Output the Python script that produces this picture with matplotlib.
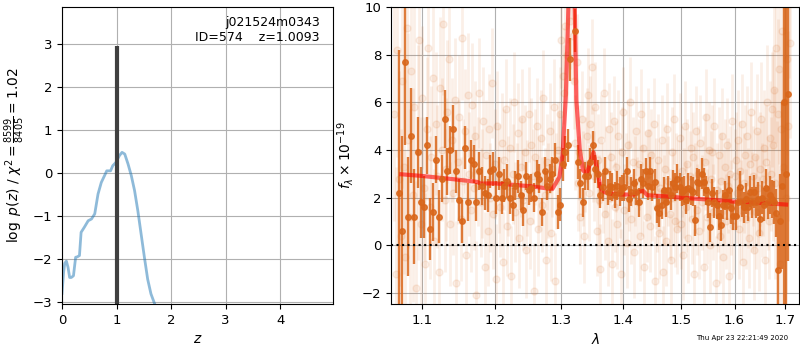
import numpy as np
import matplotlib
matplotlib.use('Agg')
import matplotlib.pyplot as plt
from matplotlib.ticker import NullLocator

# ---- left panel: redshift probability ----
z_grid = [0.0, 0.03, 0.05, 0.08, 0.11, 0.14, 0.17, 0.21, 0.25, 0.28, 0.32, 0.35,
          0.41, 0.48, 0.54, 0.60, 0.66, 0.72, 0.78, 0.82, 0.89, 0.93, 0.99, 1.05,
          1.10, 1.15, 1.21, 1.27, 1.33, 1.39, 1.45, 1.51, 1.57, 1.63, 1.70]
log_pz = [-2.8, -2.3, -2.1, -2.05, -2.19, -2.43, -2.43, -2.39, -1.96, -1.95, -1.92, -1.38,
          -1.26, -1.11, -1.07, -0.95, -0.49, -0.22, -0.06, 0.05, 0.05, 0.17, 0.25, 0.40,
          0.48, 0.44, 0.21, -0.06, -0.41, -0.88, -1.42, -1.96, -2.47, -2.81, -3.05]
z_best = 1.0093
root = 'j021524m0343'
obj_id = 574

# ---- right panel: spectrum ----
# binned spectrum
wave_bin = np.linspace(1.070, 1.706, 160)
flux_bin = [2.2, 0.6, 7.7, 1.2, 4.6, 1.2, 3.9, 1.8, 1.6, 4.2, 0.7, 1.4, 3.6, 1.2, 2.8,
            5.3, 3.1, 4.0, 4.9, 3.1, 1.9, 1.0, 4.1, 1.8, 3.6, 3.4, 1.8, 3.1, 2.5, 2.2, 2.1, 3.1,
            3.2, 2.0, 3.0, 2.0, 2.5, 2.7, 2.0, 1.7, 2.5, 2.9, 2.1, 1.5, 2.9, 2.3, 2.4, 2.0,
            3.0, 2.8, 1.4, 3.1, 2.5, 2.8, 3.0, 3.6, 1.4,
            1.7, 3.4, 3.9, 4.2, 7.8, 11.0, 9.0, 3.5, 2.6, 1.8, 2.9, 2.9, 3.5, 4.2, 3.2, 3.0,
            2.1, 2.45, 3.1, 2.25, 2.5, 2.45, 2.1, 2.5, 2.25, 2.4, 2.45, 3.1, 1.95, 2.25, 2.6,
            2.25, 1.8, 2.8, 2.6, 3.1, 2.5, 3.1, 2.45, 2.65, 1.55, 1.35, 1.7, 2.3, 1.8, 2.3,
            2.1, 2.6, 2.45, 2.8, 2.45, 2.25,
            2.3, 1.9, 2.4, 2.3, 2.25, 1.05, 2.65, 2.6, 3.0, 2.65, 2.3, 1.8, 0.75, 2.2, 1.8,
            1.7, 1.25, 0.85, 1.7, 2.1, 1.7, 2.3, 1.55, 1.25, 1.25, 1.8, 2.45, 1.8, 1.6, 1.95,
            1.6, 2.25, 1.8, 2.25, 1.8, 1.95, 1.1,
            2.0, 1.7, 2.4, 1.8, 2.1, 1.95, 1.8, 1.35, -1.05, 1.0, 2.5, 6.0, 3.0, 6.35]
err_bin = [6.0, 4.0, 3.5, 2.5, 2.0, 2.0, 1.5, 1.5, 1.3, 1.2, 1.3, 1.2, 1.0, 1.1, 1.0,
           1.2, 1.0, 1.0, 1.0, 0.9, 0.9, 0.9, 0.9, 0.8, 0.8, 0.8, 0.8, 0.8, 0.8, 0.7, 0.7, 0.7,
           0.7, 0.7, 0.7, 0.7, 0.7, 0.7, 0.7, 0.7, 0.6, 0.7, 0.6, 0.7, 0.6, 0.6, 0.6, 0.6,
           0.6, 0.6, 0.6, 0.6, 0.6, 0.6, 0.7, 0.7, 0.7,
           0.7, 0.7, 0.7, 0.7, 0.9, 1.0, 0.9, 0.7, 0.6, 0.6, 0.6, 0.6, 0.6, 0.6, 0.6, 0.6,
           0.55, 0.6, 0.6, 0.55, 0.6, 0.6, 0.55, 0.6, 0.6, 0.55, 0.6, 0.6, 0.55, 0.6, 0.6,
           0.55, 0.6, 0.6, 0.6, 0.55, 0.6, 0.6, 0.6, 0.55, 0.6, 0.6, 0.6, 0.55, 0.6, 0.6,
           0.6, 0.55, 0.6, 0.6, 0.6, 0.6,
           0.6, 0.6, 0.65, 0.6, 0.6, 0.65, 0.6, 0.6, 0.65, 0.6, 0.6, 0.65, 0.6, 0.6, 0.65,
           0.6, 0.6, 0.65, 0.6, 0.6, 0.65, 0.6, 0.65, 0.6, 0.6, 0.65, 0.65, 0.6, 0.65, 0.65,
           0.6, 0.65, 0.65, 0.7, 0.65, 0.7, 0.7,
           0.7, 0.7, 0.8, 0.7, 0.8, 0.8, 0.9, 1.0, 2.3, 2.0, 3.5, 9.0, 12.0, 7.0]

# individual (unbinned) beam pixels
wave_raw = np.linspace(1.064, 1.710, 324)
flux_raw = [5.5, -1.2, 8.2, 2.8, 0.4, 6.9, 3.3, -0.5, 9.1, 4.4, 1.2, 7.3, 2.1, 5.8, -1.8, 3.9, 8.6, 0.9,
            6.2, 2.4, -0.8, 4.9, 8.3, 1.6, 3.7, 7.0, 0.2, 5.1, 2.9, -1.1, 6.6, 4.0, 9.3, 1.9, 3.2, 5.6,
            7.8, 0.9, 4.4, 2.2, 6.1, -1.6, 3.5, 5.4, 1.1, 8.7, 2.7, 4.8, -0.4, 6.3, 3.0, 1.5, 5.9, 2.4,
            4.6, -2.1, 3.1, 6.4, 1.8, 2.6, 5.2, -0.9, 3.8, 0.6, 4.9, 2.0, 6.8, 1.3, 3.4, -1.4, 5.0, 2.8,
            1.6, 4.3, -0.7, 3.6, 5.7, 0.8, 2.5, 4.1, -1.3, 3.0, 6.0, 1.4, 2.2, 4.7, 0.3, 3.3, 5.3, 1.9,
            3.9, -0.2, 2.4, 5.5, 1.0, 4.2, 2.9, -1.9, 3.7, 5.0, 0.7, 2.6, 4.5, 1.7, 6.2, 2.1, -0.6, 3.5,
            2.3, 4.8, 0.5, 3.2, 5.8, -1.5, 2.7, 4.0, 3.6, 5.5, 8.6, 7.1, 6.4, 9.2, 8.0, 10.5, 12.0, 9.4,
            11.5, 8.8, 6.9, 4.3, 7.7, 2.6, 3.9, 1.2, 5.3, 2.8, 0.4, 3.4, 4.6, 6.3, 2.2, 5.1, 7.5, 3.8,
            2.9, 5.8, 0.6, 3.6, 1.9, -1.0, 4.4, 2.4, 6.4, 1.3, 3.1, 0.2, 4.9, 2.0, 3.7, -0.8, 5.2, 1.6,
            3.3, 0.9, 4.6, 2.2, -1.2, 3.9, 5.6, 1.5, 2.8, 0.1, 4.2, 2.5, 6.0, 1.1, 3.5, -0.3, 2.7, 4.8,
            1.8, 3.4, 0.4, 5.5, 2.3, 4.1, -0.9, 2.9, 1.2, 4.7, 3.0, 0.8, 3.8, 2.1, 5.1, -1.5, 2.6, 1.6,
            3.6, 0.5, 2.4, 4.4, -1.1, 1.9, 3.2, 0.2, 4.9, 2.7, 1.3, -0.6, 3.9, 2.0, 5.3, 1.0, 2.8, 0.7,
            2.5, 4.5, 0.9, 3.1, -0.4, 2.2, 5.0, 1.6, 3.4, 0.3, 2.9, 4.1, 1.1, 3.7, -1.2, 2.4, 4.8, 1.5,
            3.0, 0.6, 4.3, 1.8, 2.6, -0.9, 3.5, 5.4, 1.2, 2.1, 4.0, 0.0, 2.8, 3.9, 1.4, 5.0, -1.6, 2.3,
            1.7, 3.8, 0.4, 2.7, 4.6, -0.5, 2.0, 3.3, 1.0, 4.2, 2.5, -1.3, 3.0, 1.6, 5.2, 0.8, 2.9, 3.6,
            2.2, 4.4, 0.7, 3.1, 1.5, 5.1, -0.7, 2.6, 3.8, 1.1, 4.6, 2.0, 0.3, 3.4, 5.6, 1.8, 2.9, -0.2,
            3.7, 1.4, 4.8, 2.4, 0.5, 3.2, 5.3, 1.9, 2.8, 4.1, -0.6, 3.5, 6.0, 2.2, 1.0, 4.5, 3.0, 5.7,
            4.2, 6.5, 2.6, 8.3, 1.2, 5.5, 7.4, -0.8, 4.9, 9.0, 3.3, 6.0, 10.5, 2.0, 7.8, 5.0, 11.0, 8.5]
err_raw_seg = [4.5, 3.0, 2.6, 2.3, 2.1, 2.0, 2.0, 2.0, 1.9, 1.9, 1.9, 1.9, 1.9, 2.0, 2.0, 2.1, 2.4, 4.0]
err_raw = np.repeat(err_raw_seg, 18)

# best-fit model
model_wave = [1.073, 1.10, 1.143, 1.175, 1.18, 1.20, 1.252, 1.286, 1.297, 1.302, 1.307,
              1.311, 1.3165, 1.321, 1.3235, 1.329, 1.334, 1.340, 1.345, 1.351, 1.356, 1.362,
              1.367, 1.378, 1.40, 1.418, 1.426, 1.434, 1.441, 1.47, 1.50, 1.549, 1.60, 1.651, 1.702]
model_flux = [2.98, 2.91, 2.77, 2.66, 2.59, 2.60, 2.48, 2.36, 2.87, 3.85, 6.3,
              10.0, 18.0, 10.0, 6.1, 4.0, 3.15, 3.0, 3.4, 3.9, 3.3, 2.45,
              2.24, 2.17, 2.13, 2.13, 2.24, 2.28, 2.1, 2.06, 2.0, 1.92, 1.83, 1.78, 1.71]

xticks_right = [1.1, 1.2, 1.3, 1.4, 1.5, 1.6, 1.7]
timestamp = 'Thu Apr 23 22:21:49 2020'

orange = '#d9661a'

fig = plt.figure(figsize=(8, 3.5), dpi=100)
ax1 = fig.add_axes([0.0775, 0.131, 0.339, 0.849])
ax2 = fig.add_axes([0.489, 0.131, 0.510, 0.849])

# p(z)
ax1.plot(z_grid, log_pz, color='tab:blue', alpha=0.5, lw=2)
ax1.vlines(z_best, -3.05, 2.95, color='0.25', lw=3)
ax1.text(0.95, 0.97, '{0}\nID={1}    z={2:.4f}'.format(root, obj_id, z_best),
         ha='right', va='top', transform=ax1.transAxes, fontsize=9)
ax1.set_xlim(0, 4.97)
ax1.set_ylim(-3.05, 3.86)
ax1.set_xticks([0, 1, 2, 3, 4])
ax1.set_yticks([-3, -2, -1, 0, 1, 2, 3])
ax1.set_xlabel(r'$z$')
ax1.set_ylabel(r'$\log\ p(z)$ / $\chi^2=\frac{8599}{8405}=1.02$')
ax1.grid()

# spectrum
ax2.errorbar(wave_raw, flux_raw, err_raw, marker='o', ls='none', color=orange,
             alpha=0.1, ms=5, elinewidth=2)
ax2.errorbar(wave_bin, flux_bin, err_bin, marker='o', ls='none', color=orange,
             alpha=0.85, ms=4, elinewidth=1.7)
ax2.plot(model_wave, model_flux, color='r', alpha=0.6, lw=3)
ax2.axhline(0, color='k', ls=':', lw=1.5)
ax2.set_xscale('log')
ax2.set_xlim(1.06, 1.729)
ax2.set_ylim(-2.47, 10)
ax2.set_xticks(xticks_right)
ax2.set_xticklabels([str(t) for t in xticks_right])
ax2.xaxis.set_minor_locator(NullLocator())
ax2.set_xlabel(r'$\lambda$')
ax2.set_ylabel(r'$f_\lambda\times10^{-19}$')
ax2.grid()

for ax in (ax1, ax2):
    ax.tick_params(labelsize=9.5)

fig.text(0.985, 0.025, timestamp, ha='right', va='bottom', fontsize=5)

fig.savefig('out.png', dpi=100)
